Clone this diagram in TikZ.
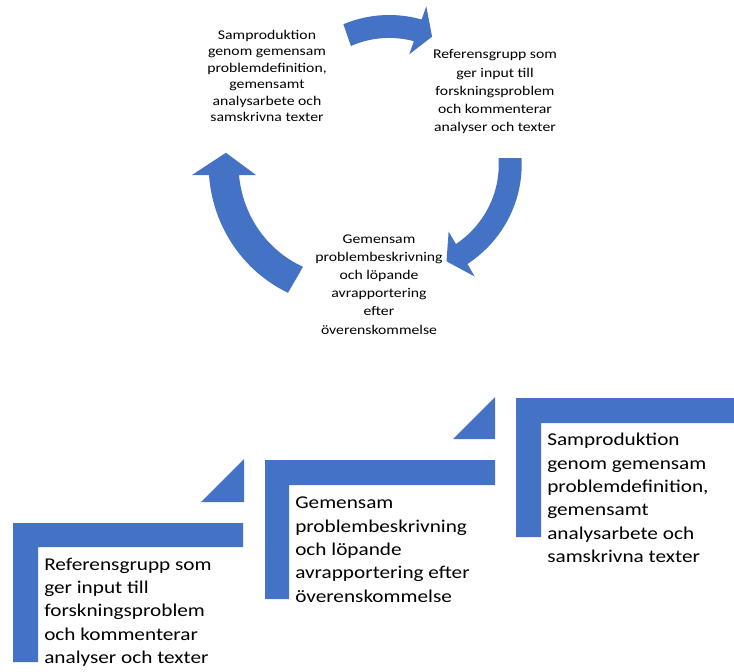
\documentclass[tikz,border=0pt]{standalone}
\usepackage{fontspec}
\setmainfont{Carlito}[FakeStretch=1.18]
\definecolor{stepblue}{HTML}{4472C4}
\tikzset{
  bluefill/.style={fill=stepblue},
  cyclabel/.style={align=center, inner sep=0pt, anchor=north},
  steplabel/.style={align=left, inner sep=0pt, anchor=north west,
    font=\fontsize{13.5}{17.5}\selectfont}
}
% curved arrow of the cycle: #1 centre, #2 tail angle, #3 head angle, #4 tip angle,
% #5 radius at tail, #6 radius at head, #7 half width, #8 half width of head
\newcommand\cyclearrow[8]{%
  \fill[bluefill, shift={#1}]
    plot[domain=#2:#3, samples=40] (\x:{#5+(#6-#5)*(\x-(#2))/((#3)-(#2))+#7})
    -- (#3:{#6+#8}) -- (#4:#6) -- (#3:{#6-#8})
    -- plot[domain=#3:#2, samples=40] (\x:{#5+(#6-#5)*(\x-(#2))/((#3)-(#2))-#7})
    -- cycle;}

\begin{document}
\begin{tikzpicture}[x=0.75pt, y=-0.75pt]
\useasboundingbox (0,0) rectangle (734,671);

% the cycle
\cyclearrow{(381,133.5)}{-109}{-70.4}{-62.2}{104}{109.5}{11.5}{25.5}
\cyclearrow{(406,158)}{0}{59.9}{68.6}{104}{111}{11.5}{26}
\cyclearrow{(356,175)}{120}{180}{189.7}{121}{132}{15}{32}

\node[cyclabel, font=\fontsize{10}{12.4}\selectfont] (samprod) at (267,29.5)
  {Samproduktion\\genom gemensam\\problemdefinition,\\gemensamt\\analysarbete och\\samskrivna texter};
\node[cyclabel, font=\fontsize{10}{13.7}\selectfont] (refgrupp) at (495,49.5)
  {Referensgrupp som\\ger input till\\forskningsproblem\\och kommenterar\\analyser och texter};
\node[cyclabel, font=\fontsize{10}{13.6}\selectfont] (gemensam) at (379,234.5)
  {Gemensam\\problembeskrivning\\och löpande\\avrapportering\\efter\\överenskommelse};

% the steps
\fill[bluefill] (13,523) -- (243,523) -- (243,547) -- (38,547) -- (38,662) -- (13,662) -- cycle;
\fill[bluefill] (265,460) -- (495,460) -- (495,485) -- (289,485) -- (289,599) -- (265,599) -- cycle;
\fill[bluefill] (516,398) -- (734,398) -- (734,423) -- (541,423) -- (541,537) -- (516,537) -- cycle;
\fill[bluefill] (244,459) -- (244,502) -- (201,502) -- cycle;
\fill[bluefill] (495,397) -- (495,439) -- (453,439) -- cycle;

\node[steplabel] (step1) at (44,557.5)
  {Referensgrupp som\\ger input till\\forskningsproblem\\och kommenterar\\analyser och texter};
\node[steplabel] (step2) at (295,497)
  {Gemensam\\problembeskrivning\\och löpande\\avrapportering efter\\överenskommelse};
\node[steplabel] (step3) at (547,433)
  {Samproduktion\\genom gemensam\\problemdefinition,\\gemensamt\\analysarbete och\\samskrivna texter};
\end{tikzpicture}
\end{document}
